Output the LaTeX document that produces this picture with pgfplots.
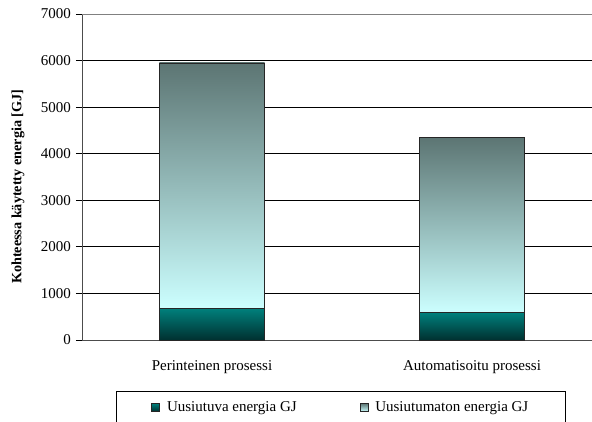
\documentclass[border=0pt]{standalone}
\usepackage{fontspec}
\setmainfont{Liberation Serif}
\usepackage{pgfplots}
\pgfplotsset{compat=1.18}
\definecolor{renTop}{RGB}{0,128,124}
\definecolor{renBot}{RGB}{0,48,48}
\definecolor{nonTop}{RGB}{92,117,115}
\definecolor{nonBot}{RGB}{204,255,255}
\begin{document}
\fontsize{15}{17}\selectfont
\begin{tikzpicture}[x=1pt,y=1pt]
\path[use as bounding box] (0,0) rectangle (592,421);
\begin{axis}[
  at={(82pt,81pt)}, anchor=south west,
  width=520pt, height=326pt, scale only axis,
  xmin=-0.5, xmax=1.5, ymin=0, ymax=7000,
  ybar stacked, bar width=0.404,
  stacked ignores zero,
  axis lines*=left,
  axis line style={black!70, line width=0.8pt},
  xtick={0,1},
  xticklabels={Perinteinen prosessi, Automatisoitu prosessi},
  x tick style={draw=none},
  extra x ticks={0.5},
  extra x tick labels={},
  extra x tick style={tick style={draw=black!70, line width=0.8pt}, major tick length=6pt, tick align=outside},
  xticklabel style={yshift=-9pt},
  ytick={0,1000,...,6000},
  extra y ticks={7000},
  extra y tick style={grid style={gray, line width=0.9pt}},
  tick align=outside,
  major tick length=6pt,
  y tick style={black, line width=0.8pt},
  ymajorgrids,
  grid style={black, line width=0.8pt},
  /pgf/number format/1000 sep={},
  /pgf/number format/assume math mode=true,
  tick label style={font=\fontsize{15}{17}\selectfont},
  ylabel={\bfseries Kohteessa käytetty energia [GJ]},
  ylabel style={font=\fontsize{14.2}{16}\selectfont,
    at={(axis description cs:-0.123,0.47)}, anchor=center, rotate=0},
  legend columns=2,
  legend style={
    at={(0.0654,-0.1564)}, anchor=north west,
    draw=black, line width=0.8pt,
    font=\fontsize{15}{17}\selectfont,
    inner xsep=35pt, inner ysep=8pt,
    /tikz/every even column/.append style={column sep=61pt},
  },
  legend image code/.code={\draw[#1, line width=0.6pt] (0pt,-4pt) rectangle (8pt,4pt);
    \path (13pt,0pt);},
]
% renewable energy, one plot per process so each bar gets its own shading
\addplot[draw=black!85, line width=0.6pt, top color=renTop, bottom color=renBot]
  coordinates {(0,680) (1,0)};
\addplot[forget plot, draw=black!85, line width=0.6pt, top color=renTop, bottom color=renBot]
  coordinates {(0,0) (1,590)};
% non-renewable energy stacked on top
\addplot[draw=black!85, line width=0.6pt, top color=nonTop, bottom color=nonBot]
  coordinates {(0,5270) (1,0)};
\addplot[forget plot, draw=black!85, line width=0.6pt, top color=nonTop, bottom color=nonBot]
  coordinates {(0,0) (1,3760)};
\legend{Uusiutuva energia GJ, Uusiutumaton energia GJ}
\end{axis}
\end{tikzpicture}
\end{document}
